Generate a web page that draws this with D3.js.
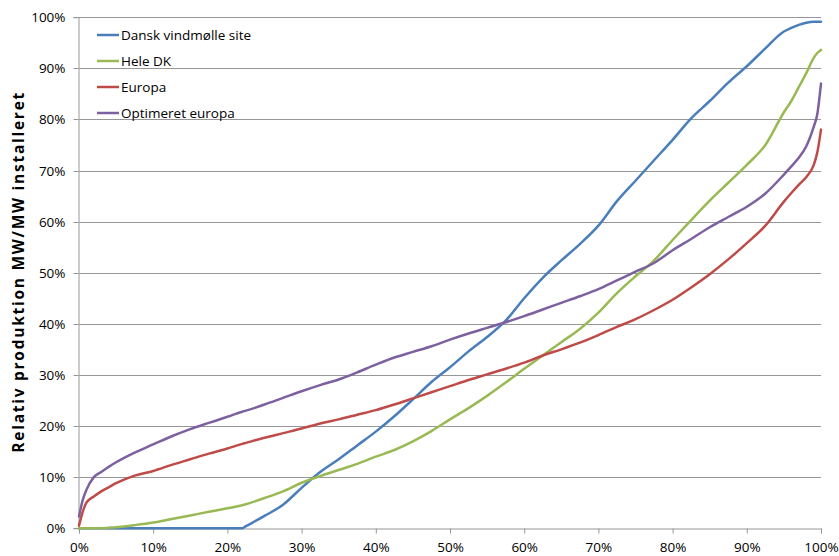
<!DOCTYPE html>
<html>
<head>
<meta charset="utf-8">
<script src="https://cdn.jsdelivr.net/npm/d3@7"></script>
<style>
  html, body { margin: 0; padding: 0; background: #fff; }
  svg { display: block; }
  .tick text { font-family: "Open Sans", sans-serif; font-size: 13.5px; fill: #000; }
</style>
</head>
<body>
<svg id="chart" width="839" height="556"></svg>
<script>
// Share of time (%) at which each series is sampled, sorted duration curve
const share = [0, 0.5, 1, 2, 3, 4, 5, 7.5, 10, 12.5, 15, 17.5, 20, 22,
  22.5, 25, 27.5, 30, 32.5, 35, 37.5, 40, 42.5, 45, 47.5, 50, 52.5, 55, 57.5, 60,
  62.5, 65, 67.5, 70, 72.5, 75, 77.5, 80, 82.5, 85, 87.5, 90, 92.5, 95,
  96, 97, 98, 99, 99.5, 100];

// Relative production (MW/MW installed, %) per series
const danskSite = [0, 0, 0, 0, 0, 0, 0, 0, 0, 0, 0, 0, 0, 0,
  0.4, 2.4, 4.6, 7.9, 11, 13.5, 16.2, 18.9, 21.9, 25.2, 28.6, 31.5, 34.6, 37.4, 40.6, 45,
  49, 52.4, 55.6, 59.2, 64, 68, 72, 76, 80.2, 83.6, 87.2, 90.4, 93.9, 97.2,
  97.9, 98.5, 98.9, 99.1, 99.1, 99.1];

const heleDK = [0, 0, 0, 0, 0, 0.1, 0.2, 0.6, 1.1, 1.8, 2.5, 3.2, 3.9, 4.5,
  4.7, 5.9, 7.2, 8.9, 10.2, 11.4, 12.6, 14, 15.3, 17, 19, 21.3, 23.5, 25.9, 28.5, 31.2,
  33.8, 36.4, 39, 42.2, 46, 49.3, 52.4, 56.4, 60.3, 64.1, 67.6, 71.1, 75, 81.4,
  83.6, 86.3, 89, 92, 93, 93.6];

const europa = [0.5, 3.2, 5, 6.2, 7.2, 8, 8.8, 10.3, 11.2, 12.4, 13.5, 14.6, 15.6, 16.5,
  16.7, 17.7, 18.6, 19.5, 20.5, 21.3, 22.2, 23.1, 24.2, 25.4, 26.6, 27.8, 29, 30.1, 31.2, 32.4,
  33.8, 35, 36.3, 37.8, 39.4, 40.9, 42.7, 44.7, 47.1, 49.7, 52.6, 55.8, 59.2, 63.9,
  65.6, 67.2, 68.7, 71, 73.5, 78];

const optimeretEuropa = [2.3, 5.5, 7.5, 10, 11, 12, 12.9, 14.8, 16.4, 18, 19.4, 20.6, 21.8, 22.8,
  23, 24.2, 25.5, 26.8, 28, 29.1, 30.5, 32, 33.4, 34.5, 35.6, 36.9, 38.1, 39.2, 40.3, 41.5,
  42.8, 44.1, 45.4, 46.8, 48.5, 50.2, 51.9, 54.4, 56.6, 58.9, 60.9, 62.9, 65.5, 69.2,
  70.8, 72.5, 74.7, 78.5, 81, 87];

const seriesNames = ["Dansk vindmølle site", "Hele DK", "Europa", "Optimeret europa"];
const seriesValues = [danskSite, heleDK, europa, optimeretEuropa];
const seriesColors = ["#4a7ebb", "#98b954", "#be4b48", "#7d60a0"];

const xTicks = [0, 10, 20, 30, 40, 50, 60, 70, 80, 90, 100];
const yTicks = [0, 10, 20, 30, 40, 50, 60, 70, 80, 90, 100];
const yTitle = "Relativ produktion MW/MW installeret";

const svg = d3.select("#chart");
const plotLeft = 79, plotRight = 821, plotTop = 17.2, plotBottom = 528.2;

const x = d3.scaleLinear().domain([0, 100]).range([plotLeft, plotRight]);
const y = d3.scaleLinear().domain([0, 100]).range([plotBottom, plotTop]);

const gridColor = "#979797";

// horizontal gridlines
svg.append("g")
  .selectAll("line")
  .data(yTicks.filter(d => d > 0))
  .join("line")
  .attr("x1", plotLeft).attr("x2", plotRight)
  .attr("y1", d => Math.round(y(d)) + 0.5).attr("y2", d => Math.round(y(d)) + 0.5)
  .attr("stroke", gridColor).attr("stroke-width", 1);

// y axis
const yAxis = svg.append("g")
  .attr("transform", `translate(${plotLeft - 0.5},0)`)
  .call(d3.axisLeft(y).tickValues(yTicks).tickFormat(d => d + "%").tickSize(5).tickPadding(8));
yAxis.select(".domain").attr("stroke", gridColor);
yAxis.selectAll(".tick line").attr("stroke", gridColor);
yAxis.selectAll(".tick").attr("transform", d => `translate(0,${Math.round(y(d)) + 0.5})`);

// x axis
const xAxis = svg.append("g")
  .attr("transform", `translate(0,${Math.round(plotBottom) + 0.5})`)
  .call(d3.axisBottom(x).tickValues(xTicks).tickFormat(d => d + "%").tickSize(5).tickPadding(9));
xAxis.select(".domain").attr("stroke", gridColor);
xAxis.selectAll(".tick line").attr("stroke", gridColor);

// y axis title
svg.append("text")
  .attr("transform", `translate(19,${(plotTop + plotBottom) / 2}) rotate(-90)`)
  .attr("text-anchor", "middle")
  .attr("dy", "0.35em")
  .attr("font-family", "'Open Sans', sans-serif")
  .attr("font-weight", "bold")
  .attr("font-size", "15.5px")
  .attr("textLength", 360)
  .attr("lengthAdjust", "spacing")
  .text(yTitle);

// series lines
const line = d3.line()
  .x((d, i) => x(share[i]))
  .y(d => y(d))
  .curve(d3.curveMonotoneX);

svg.append("g")
  .selectAll("path")
  .data(seriesValues)
  .join("path")
  .attr("d", d => line(d))
  .attr("fill", "none")
  .attr("stroke", (d, i) => seriesColors[i])
  .attr("stroke-width", 2.5)
  .attr("stroke-linejoin", "round")
  .attr("stroke-linecap", "round");

// legend
const legend = svg.append("g").attr("transform", "translate(97,35)");
const rows = legend.selectAll("g")
  .data(seriesNames)
  .join("g")
  .attr("transform", (d, i) => `translate(0,${i * 26})`);
rows.append("line")
  .attr("x1", 0).attr("x2", 22).attr("y1", 0).attr("y2", 0)
  .attr("stroke", (d, i) => seriesColors[i])
  .attr("stroke-width", 2.5);
rows.append("text")
  .attr("x", 24).attr("y", 0).attr("dy", "0.35em")
  .attr("font-family", "'Open Sans', sans-serif")
  .attr("font-size", "13.5px")
  .text(d => d);
</script>
</body>
</html>
